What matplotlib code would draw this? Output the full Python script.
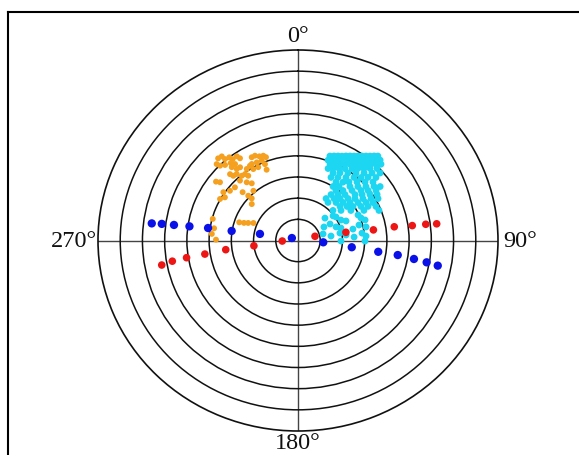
import matplotlib
matplotlib.use("Agg")
import matplotlib.pyplot as plt
import numpy as np
from matplotlib.lines import Line2D

# ---- data (azimuth in degrees clockwise from north, radial value 0-90) ----
ring_values = [10, 20, 30, 40, 50, 60, 70, 80]
r_max = 90
label_angles = [0, 90, 180, 270]
label_texts = ["0°", "90°", "180°", "270°"]

orange_az = [317.2, 319.2, 319.5, 321.8, 322.6, 325.3, 326.1, 332.1, 334.2, 336.4,
             338.7, 339.9, 330.1, 333.3, 336.6, 314.6, 315.2, 317.4, 320.4, 321.9,
             320.8, 323.0, 329.2, 332.7, 337.1, 315.7, 316.4, 318.7, 320.4, 322.8,
             323.8, 317.3, 320.0, 322.4, 307.0, 311.5, 312.5, 313.4, 313.7, 309.6,
             304.2, 301.8, 299.2, 319.5, 284.9, 288.0, 288.9, 290.3, 292.4, 278.7,
             274.6, 270.6, 319.3, 325.7, 308.1, 307.5, 328.5, 337.6]
orange_r = [52.9, 52.5, 50.6, 50.0, 48.4, 48.4, 46.8, 44.5, 44.5, 43.4,
            43.0, 41.9, 41.7, 41.3, 41.1, 51.4, 49.8, 48.5, 47.5, 45.9,
            43.6, 43.3, 39.3, 39.0, 36.3, 43.8, 42.2, 41.8, 39.7, 39.4,
            37.9, 38.5, 35.9, 34.1, 46.2, 37.9, 33.8, 30.8, 28.8, 27.0,
            40.6, 38.7, 40.2, 30.9, 39.7, 27.8, 25.7, 23.9, 21.7, 38.2,
            38.9, 36.9, 45.7, 40.9, 44.6, 38.6, 41.4, 39.0]

cyan_az = [19.8, 22.1, 24.3, 26.4, 28.4, 30.4, 32.3, 34.1, 35.8, 37.5, 39.1, 40.6, 42.0,
           19.6, 21.9, 24.2, 26.4, 28.6, 30.6, 32.6, 34.5, 36.3, 38.0, 39.7, 41.2, 42.7, 44.2,
           21.8, 24.8, 27.6, 30.4, 32.9, 35.9, 38.1, 40.3, 42.3, 44.2, 46.0,
           21.7, 24.9, 28.5, 31.9, 35.6, 38.4, 41.1, 43.6, 46.3,
           26.3, 30.6, 35.2, 39.3, 43.0, 46.2, 49.2,
           26.5, 31.1, 35.9, 40.2, 43.6, 46.6, 49.7,
           31.8, 36.3, 39.7, 43.9, 47.5, 50.7,
           31.7, 35.9, 42.5, 46.6, 50.2, 53.3, 55.4,
           35.9, 40.6, 45.8, 50.2, 53.2, 56.1,
           34.4, 39.7, 44.3, 49.8, 53.0, 56.2, 58.6,
           32.5, 39.3, 43.7, 48.6, 52.3, 55.9, 58.9, 61.2,
           36.9, 43.6, 48.4, 52.5, 56.4, 59.6, 62.0,
           49.6, 53.9, 57.0, 60.4, 62.9, 65.4,
           47.9, 53.7, 59.2, 64.4, 68.7,
           48.9, 53.6, 63.4, 66.9, 65.9, 69.5, 72.2, 61.3, 61.6, 69.5, 73.0, 77.7,
           75.1, 78.2, 81.9, 79.5, 83.1, 86.3, 83.1, 86.1, 90.7, 90.5, 57.0, 74.6]
cyan_r = [42.4, 43.1, 43.8, 44.5, 45.4, 46.3, 47.2, 48.2, 49.2, 50.3, 51.4, 52.6, 53.7,
          40.3, 41.0, 41.7, 42.4, 43.3, 44.2, 45.1, 46.1, 47.1, 48.2, 49.4, 50.5, 51.7, 53.0,
          38.9, 39.7, 40.7, 41.8, 43.0, 44.5, 45.9, 47.3, 48.8, 50.3, 51.9,
          36.6, 37.5, 38.7, 40.0, 41.8, 43.4, 45.1, 47.0, 49.2,
          35.6, 37.1, 39.0, 41.2, 43.6, 46.1, 48.8,
          33.3, 34.8, 36.8, 39.0, 41.1, 43.4, 46.0,
          32.5, 34.2, 35.9, 38.3, 40.9, 43.6,
          30.0, 31.5, 34.6, 37.1, 39.8, 42.7, 44.9,
          29.1, 31.1, 33.9, 36.9, 39.4, 42.3,
          26.3, 28.2, 30.3, 33.6, 36.1, 39.0, 41.7,
          23.5, 25.6, 27.4, 30.0, 32.4, 35.3, 38.4, 41.1,
          22.5, 24.8, 27.1, 29.5, 32.4, 35.5, 38.2,
          24.8, 27.3, 29.5, 32.6, 35.4, 38.6,
          21.2, 24.0, 27.7, 32.9, 39.1,
          16.1, 19.6, 21.6, 23.5, 29.6, 30.3, 31.7, 13.3, 16.4, 18.3, 20.2, 25.3,
          28.4, 31.3, 15.0, 19.2, 21.8, 25.3, 29.0, 30.7, 19.35, 30.15, 20.4, 11.7]

blue_az = [277.0, 277.3, 277.5, 277.8, 278.3, 278.6, 280.3, 293.0,
           94.3, 97.5, 98.4, 98.7, 99.5, 100.1, 100.7]
blue_r = [66.3, 61.8, 56.3, 49.3, 40.9, 30.2, 17.4, 3.0,
          11.4, 24.4, 36.5, 45.4, 52.9, 58.8, 64.0]

red_az = [259.3, 260.2, 260.8, 261.3, 262.4, 262.8, 268.0,
          75.4, 79.8, 81.6, 81.5, 82.2, 82.4, 82.8]
red_r = [62.4, 57.4, 50.8, 42.4, 32.8, 20.0, 7.1,
         7.9, 21.9, 34.3, 43.8, 51.9, 58.0, 62.9]

# ---- figure ----
W, H = 579, 456
fig = plt.figure(figsize=(W / 100, H / 100), dpi=100)
fig.patch.set_facecolor("white")

ax = fig.add_axes([98 / W, 24 / H, 400 / W, 381 / H], projection="polar")
ax.set_aspect("auto")
ax.set_theta_zero_location("N")
ax.set_theta_direction(-1)
ax.set_rlim(0, r_max)
ax.set_rgrids(ring_values, labels=[""] * len(ring_values))
ax.set_thetagrids(label_angles, [""] * len(label_angles))
ax.yaxis.grid(True, color="#111111", linewidth=1.1, linestyle="-")
ax.xaxis.grid(True, color="#444444", linewidth=1.0, linestyle="-")
ax.spines["polar"].set_linewidth(1.2)
ax.spines["polar"].set_color("#111111")

# direction labels placed just outside the outer ring
label_font = dict(fontfamily=["Liberation Serif", "DejaVu Serif"], fontsize=17.5, color="#111111")
label_layout = {0: ((0, 3), "center", "bottom"),
                90: ((4, 0), "left", "center"),
                180: ((0, -1), "center", "top"),
                270: ((-1, 0), "right", "center")}
for ang, txt in zip(label_angles, label_texts):
    off, ha, va = label_layout[ang]
    ax.annotate(txt, xy=(np.deg2rad(ang), r_max), xytext=off, textcoords="offset points",
                ha=ha, va=va, annotation_clip=False, **label_font)

ax.scatter(np.deg2rad(orange_az), orange_r, s=18, c="#F5A01E", edgecolors="none", zorder=3)
ax.scatter(np.deg2rad(cyan_az), cyan_r, s=24, c="#1CD6F2", edgecolors="none", zorder=3)
ax.scatter(np.deg2rad(blue_az), blue_r, s=36, c="#0A10E8", edgecolors="none", zorder=4)
ax.scatter(np.deg2rad(red_az), red_r, s=30, c="#EE1515", edgecolors="none", zorder=4)

# outer frame (left and top edges visible)
fig.add_artist(Line2D([8 / W, 8 / W], [0, 1 - 13 / H], transform=fig.transFigure,
                      color="black", linewidth=1.5))
fig.add_artist(Line2D([8 / W, 1], [1 - 13 / H, 1 - 13 / H], transform=fig.transFigure,
                      color="black", linewidth=1.5))

fig.savefig("out.png", dpi=100, facecolor="white")
